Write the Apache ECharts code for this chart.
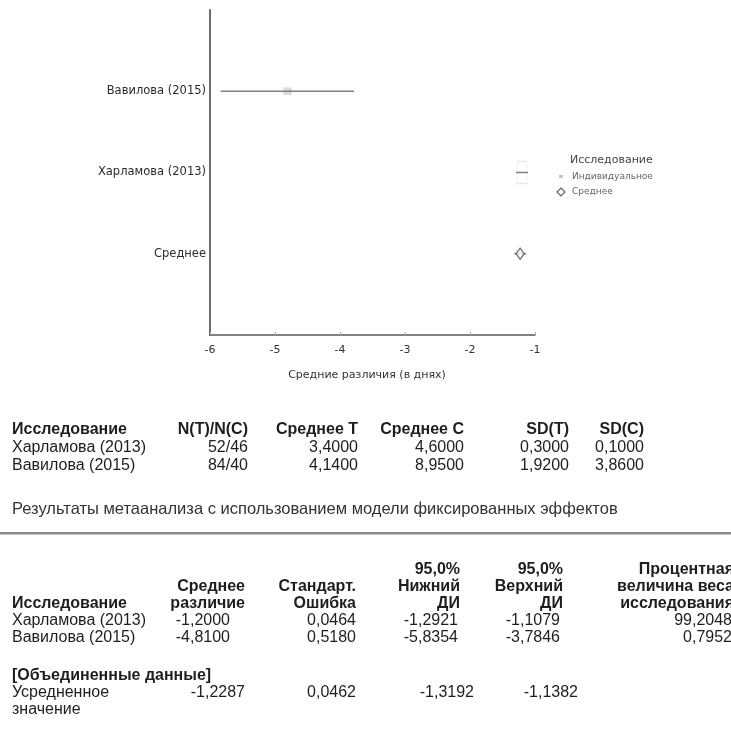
<!DOCTYPE html>
<html>
<head>
<meta charset="utf-8">
<script src="https://cdn.jsdelivr.net/npm/echarts@6/dist/echarts.min.js"></script>
<style>
html,body{margin:0;padding:0;background:#fff;}
#chart{width:731px;height:733px;}
</style>
</head>
<body>
<div id="chart"></div>
<script>
// ---- data ----
var plotLabels = ['Среднее', 'Харламова (2013)', 'Вавилова (2015)'];
var xTicks = [-6, -5, -4, -3, -2, -1];
var studies = ['Харламова (2013)', 'Вавилова (2015)'];
var nTC = ['52/46', '84/40'];
var meanT = [3.4000, 4.1400];
var meanC = [4.6000, 8.9500];
var sdT = [0.3000, 1.9200];
var sdC = [0.1000, 3.8600];
var meanDiff = [-1.2000, -4.8100];
var stdErr = [0.0464, 0.5180];
var ciLow = [-1.2921, -5.8354];
var ciHigh = [-1.1079, -3.7846];
var weight = [99.2048, 0.7952];
var pooled = [-1.2287, 0.0462, -1.3192, -1.1382]; // mean, SE, low, high
var studyPos = [2, 3];   // y slot of each study in the plot
var pooledPos = 1;

function fmt(v) { return v.toFixed(4).replace('.', ','); }

var FONT = '"Liberation Sans", Arial, sans-serif';
var PFONT = '"DejaVu Sans", sans-serif';
var TS = 16;

function txt(t, x, y, opt) {
  opt = opt || {};
  return {
    type: 'text', x: x, y: y, silent: true,
    style: {
      text: t,
      fill: opt.fill || '#1e1e1e',
      font: (opt.bold ? 'bold ' : '') + (opt.size || TS) + 'px ' + (opt.family || FONT),
      align: opt.align || 'left', textAlign: opt.align || 'left',
      verticalAlign: 'middle', textVerticalAlign: 'middle'
    }
  };
}

var g = [];
// legend (drawn)
g.push(txt('Исследование', 570, 160, {size: 11, family: PFONT, fill: '#444'}));
g.push({type: 'rect', shape: {x: 559, y: 175, width: 4, height: 3}, style: {fill: '#c4c4c4'}});
g.push(txt('Индивидуальное', 572, 177, {size: 9, family: PFONT, fill: '#666'}));
g.push({type: 'polygon', shape: {points: [[561, 188], [565, 192], [561, 196], [557, 192]]}, style: {fill: '#fff', stroke: '#666', lineWidth: 1.2}});
g.push(txt('Среднее', 572, 192, {size: 9, family: PFONT, fill: '#666'}));
// x axis title
g.push(txt('Средние различия (в днях)', 367, 375, {size: 11, family: PFONT, fill: '#333', align: 'center'}));

// table 1
var t1Y = [430, 448, 466];
var t1Cols = [
  {h: 'N(T)/N(C)', x: 248, v: nTC},
  {h: 'Среднее T', x: 358, v: meanT.map(fmt)},
  {h: 'Среднее C', x: 464, v: meanC.map(fmt)},
  {h: 'SD(T)', x: 569, v: sdT.map(fmt)},
  {h: 'SD(C)', x: 644, v: sdC.map(fmt)}
];
g.push(txt('Исследование', 12, t1Y[0], {bold: true}));
studies.forEach(function (s, i) { g.push(txt(s, 12, t1Y[i + 1])); });
t1Cols.forEach(function (c) {
  g.push(txt(c.h, c.x, t1Y[0], {bold: true, align: 'right'}));
  c.v.forEach(function (v, i) { g.push(txt(v, c.x, t1Y[i + 1], {align: 'right'})); });
});

// title + rule
g.push(txt('Результаты метаанализа с использованием модели фиксированных эффектов', 12, 509, {size: 16.5, fill: '#333'}));
g.push({type: 'rect', shape: {x: 0, y: 532, width: 731, height: 2.5}, style: {fill: '#8a8a8a'}});

// table 2
var hY = [570, 587, 604];
var rY = [621, 638];
var pY = [676, 693, 710];
var t2Cols = [
  {h: ['', 'Среднее', 'различие'], x: 245, vx: 230, px: 245, v: meanDiff, p: pooled[0]},
  {h: ['', 'Стандарт.', 'Ошибка'], x: 356, vx: 356, px: 356, v: stdErr, p: pooled[1]},
  {h: ['95,0%', 'Нижний', 'ДИ'], x: 460, vx: 458, px: 474, v: ciLow, p: pooled[2]},
  {h: ['95,0%', 'Верхний', 'ДИ'], x: 563, vx: 560, px: 578, v: ciHigh, p: pooled[3]},
  {h: ['Процентная', 'величина веса', 'исследования'], x: 734, vx: 732, px: null, v: weight, p: null}
];
g.push(txt('Исследование', 12, hY[2], {bold: true}));
studies.forEach(function (s, i) { g.push(txt(s, 12, rY[i])); });
t2Cols.forEach(function (c) {
  c.h.forEach(function (h, k) { if (h) g.push(txt(h, c.x, hY[k], {bold: true, align: 'right'})); });
  c.v.forEach(function (v, i) { g.push(txt(fmt(v), c.vx, rY[i], {align: 'right'})); });
  if (c.p !== null) g.push(txt(fmt(c.p), c.px, pY[1], {align: 'right'}));
});
g.push(txt('[Объединенные данные]', 12, pY[0], {bold: true}));
g.push(txt('Усредненное', 12, pY[1]));
g.push(txt('значение', 12, pY[2]));

// ---- chart ----
var ciData = studies.map(function (s, i) { return [ciLow[i], ciHigh[i], studyPos[i]]; });
ciData.push([pooled[2], pooled[3], pooledPos]);
var pointData = studies.map(function (s, i) { return [meanDiff[i], studyPos[i], weight[i]]; });

var chart = echarts.init(document.getElementById('chart'), null, {renderer: 'canvas'});
chart.setOption({
  animation: false,
  backgroundColor: '#fff',
  grid: {left: 210, right: 196, top: 10, bottom: 398, containLabel: false},
  xAxis: {
    type: 'value', min: xTicks[0], max: xTicks[xTicks.length - 1], interval: 1,
    axisLine: {show: true, lineStyle: {color: '#5a5a5a', width: 1.5}},
    axisTick: {show: true, inside: true, length: 3, lineStyle: {color: '#aaa'}},
    axisLabel: {color: '#333', fontSize: 11, fontFamily: PFONT, margin: 10},
    splitLine: {show: false}
  },
  yAxis: {
    type: 'value', min: 0, max: 4, interval: 1,
    axisLine: {show: true, lineStyle: {color: '#5a5a5a', width: 1.8}},
    axisTick: {show: false},
    axisLabel: {
      color: '#2a2a2a', fontSize: 11.5, fontFamily: PFONT, margin: 4,
      formatter: function (v) { return plotLabels[v - 1] || ''; }
    },
    splitLine: {show: false}
  },
  series: [
    {
      type: 'scatter', data: pointData, symbol: 'rect', z: 1,
      symbolSize: function (d) { return d[2] > 50 ? [10, 22] : [8, 7]; },
      itemStyle: {
        color: function (p) { return p.data[2] > 50 ? 'rgba(255,255,255,0)' : '#cfcfcf'; },
        borderColor: '#e2e2e2', borderWidth: 1
      }
    },
    {
      type: 'custom', z: 2,
      data: ciData,
      renderItem: function (params, api) {
        var a = api.coord([api.value(0), api.value(2)]);
        var b = api.coord([api.value(1), api.value(2)]);
        return {type: 'line', shape: {x1: a[0], y1: a[1], x2: b[0], y2: b[1]},
          style: {stroke: '#808080', lineWidth: 1.5}};
      },
      encode: {x: [0, 1], y: 2}
    },
    {
      type: 'scatter', data: [[pooled[0], pooledPos]], symbol: 'diamond', symbolSize: [8, 11], z: 3,
      itemStyle: {color: '#fff', borderColor: '#555', borderWidth: 1.5}
    }
  ],
  graphic: g
});
</script>
</body>
</html>
